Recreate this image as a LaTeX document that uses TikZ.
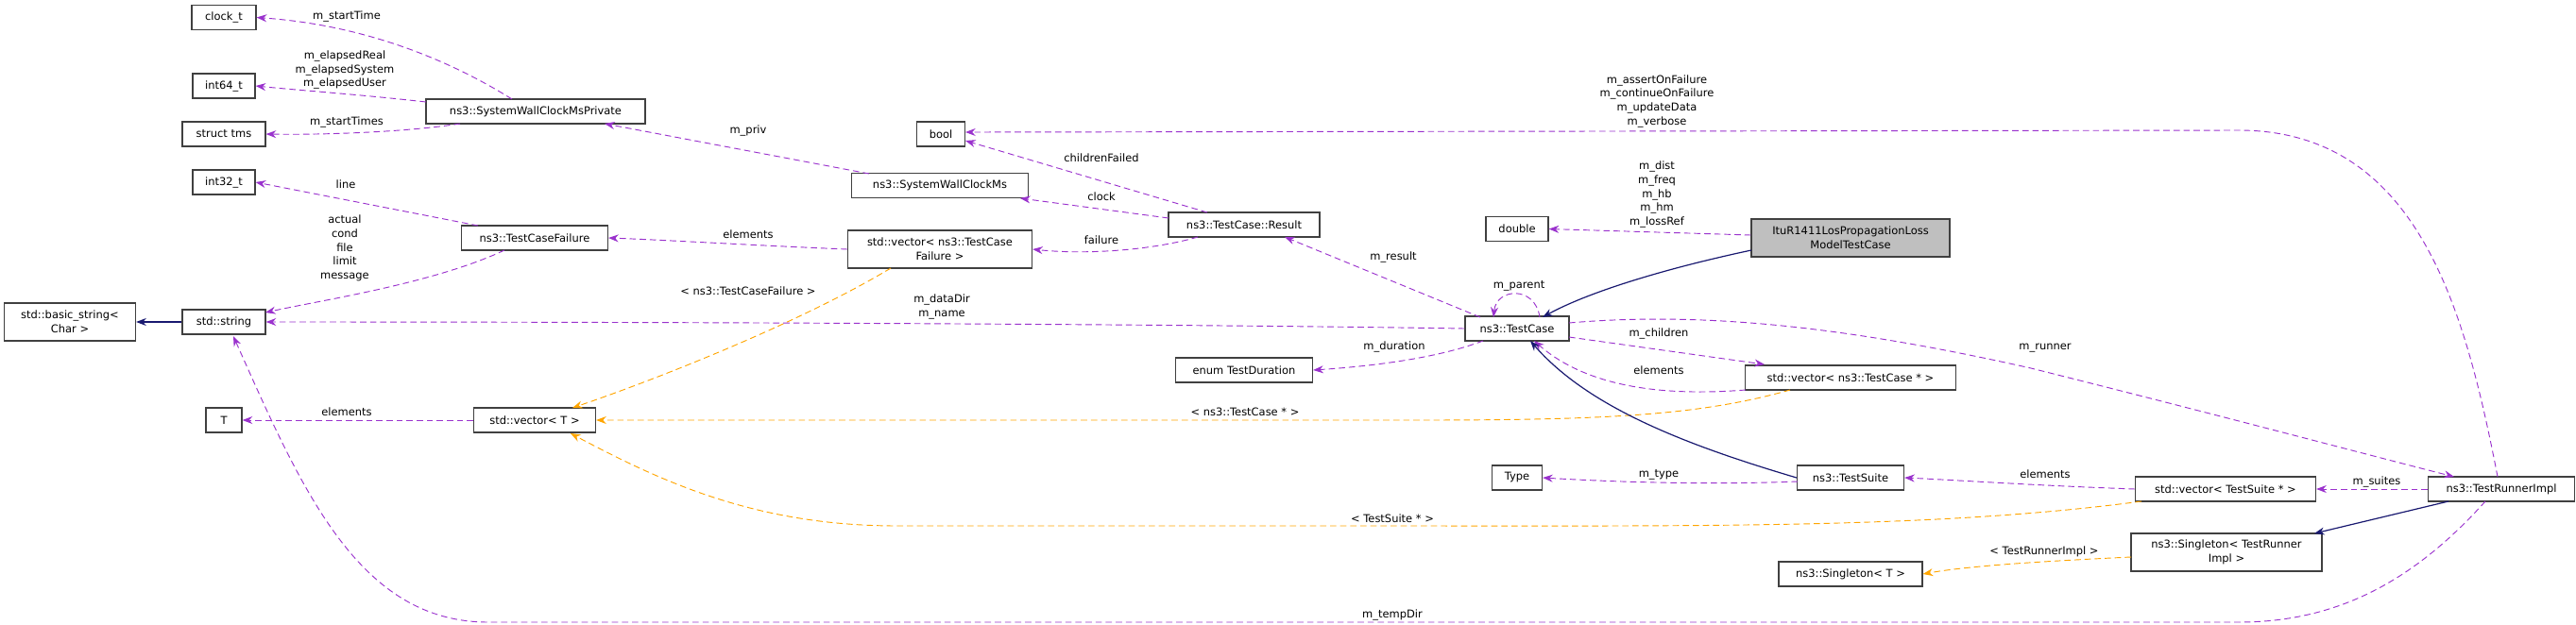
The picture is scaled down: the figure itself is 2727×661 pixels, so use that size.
\documentclass[tikz,border=0pt]{standalone}
\usepackage{fontspec}
\newfontfamily\dxf{DejaVu Sans}
\usetikzlibrary{arrows.meta}
\definecolor{pur}{HTML}{9A32CD}
\definecolor{nav}{HTML}{191970}
\definecolor{org}{HTML}{FFA500}
\newlength\px \setlength\px{0.75pt}
\begin{document}
\begin{tikzpicture}[x=0.75pt,y=-0.75pt,
 font=\dxf\fontsize{8.6}{11}\selectfont,
 box/.style={draw=black!75,line width=0.9pt,fill=white,minimum height=26\px,inner sep=1pt,align=center},
 tall/.style={box,minimum height=40\px},
 lbl/.style={align=center,inner sep=0pt},
 p/.style={draw=pur,dashed,dash pattern=on 5pt off 3pt,line width=0.7pt,-{Stealth[length=8pt,width=6pt]}},
 o/.style={draw=org,dashed,dash pattern=on 5pt off 3pt,line width=0.7pt,-{Stealth[length=8pt,width=6pt]}},
 n/.style={draw=nav,line width=0.9pt,-{Stealth[length=8pt,width=6pt]}}]
\useasboundingbox (0,0) rectangle (2727,661);
% nodes
\node[box,minimum width=68\px] (clock) at (237,18.5) {clock\_t};
\node[box,minimum width=66\px] (i64) at (237,91) {int64\_t};
\node[box,minimum width=88\px] (tms) at (237,142) {struct tms};
\node[box,minimum width=232\px] (swcmp) at (567,118) {ns3::SystemWallClockMsPrivate};
\node[box,minimum width=66\px] (i32) at (237,193) {int32\_t};
\node[box,minimum width=155\px] (tcf) at (566,252) {ns3::TestCaseFailure};
\node[tall,minimum width=139\px] (bstr) at (74,341) {std::basic\_string\textless\\Char \textgreater};
\node[box,minimum width=88\px] (str) at (237,341) {std::string};
\node[box,minimum width=38\px] (T) at (237,445) {T};
\node[box,minimum width=129\px] (vT) at (566,445) {std::vector\textless\ T \textgreater};
\node[box,minimum width=51\px] (bool) at (996,142) {bool};
\node[box,minimum width=187\px] (swcm) at (995,196.5) {ns3::SystemWallClockMs};
\node[tall,minimum width=195\px] (vtcf) at (995,264) {std::vector\textless\ ns3::TestCase\\Failure \textgreater};
\node[box,minimum width=160\px] (res) at (1317,238) {ns3::TestCase::Result};
\node[box,minimum width=66\px] (dbl) at (1606,242.5) {double};
\node[tall,minimum width=210\px,fill=black!25] (itu) at (1959,252) {ItuR1411LosPropagationLoss\\ModelTestCase};
\node[box,minimum width=110\px] (tc) at (1606,348) {ns3::TestCase};
\node[box,minimum width=145\px] (enum) at (1317,392) {enum TestDuration};
\node[box,minimum width=53\px] (type) at (1606,506) {Type};
\node[box,minimum width=223\px] (vtc) at (1959,400) {std::vector\textless\ ns3::TestCase * \textgreater};
\node[box,minimum width=113\px] (ts) at (1959,506) {ns3::TestSuite};
\node[box,minimum width=191\px] (vts) at (2356,518) {std::vector\textless\ TestSuite * \textgreater};
\node[box,minimum width=155\px] (tri) at (2648,518) {ns3::TestRunnerImpl};
\node[tall,minimum width=202\px] (stri) at (2357,585) {ns3::Singleton\textless\ TestRunner\\Impl \textgreater};
\node[box,minimum width=152\px] (sT) at (1959,608) {ns3::Singleton\textless\ T \textgreater};
\coordinate (swcmpN) at (542,105);
% edges
\draw[p] (swcmpN) .. controls (470,60) and (380,26) .. (clock.east);
\node[lbl] at (367,17) {m\_startTime};
\draw[p] (451,108) .. controls (380,100) and (320,96) .. (i64.east);
\node[lbl] at (365,74) {m\_elapsedReal\\m\_elapsedSystem\\m\_elapsedUser};
\draw[p] (487,131) .. controls (430,140) and (340,143) .. (tms.east);
\node[lbl] at (367,129) {m\_startTimes};
\draw[p] (920,184) -- (640,131);
\node[lbl] at (792,138) {m\_priv};
\draw[p] (506,239) -- (i32.east);
\node[lbl] at (366,195) {line};
\draw[p] (534,265) .. controls (460,300) and (340,318) .. (281,331);
\node[lbl] at (365,263) {actual\\cond\\file\\limit\\message};
\draw[p] (vtcf.west) .. controls (800,260) and (700,254) .. (tcf.east);
\node[lbl] at (792,248) {elements};
\draw[o] (943,284) .. controls (850,340) and (700,400) .. (606,432);
\node[lbl] at (792,308) {\textless\ ns3::TestCaseFailure \textgreater};
\draw[n] (str) -- (bstr);
\draw[p] (tc.west) .. controls (1300,344) and (800,341) .. (str.east);
\node[lbl] at (997,325) {m\_dataDir\\m\_name};
\draw[p] (vT) -- (T);
\node[lbl] at (367,436) {elements};
\draw[o] (1895,413) .. controls (1800,440) and (1700,445) .. (1500,445) -- (vT.east);
\node[lbl] at (1318,436) {\textless\ ns3::TestCase * \textgreater};
\draw[o] (2267,531) .. controls (2050,560) and (1800,557) .. (1474,557) -- (950,557) .. controls (800,557) and (700,510) .. (604,459);
\node[lbl] at (1474,549) {\textless\ TestSuite * \textgreater};
\draw[p] (1278,225) -- (1022,149);
\node[lbl] at (1166,167) {childrenFailed};
\draw[p] (1237,231) -- (1080,210);
\node[lbl] at (1166,208) {clock};
\draw[p] (1268,251) .. controls (1220,265) and (1150,270) .. (vtcf.east);
\node[lbl] at (1166,254) {failure};
\draw[p] (1567,336) -- (1360,251);
\node[lbl] at (1475,272) {m\_result};
\draw[p] (1630,336) .. controls (1625,302) and (1584,305) .. (1581,336);
\node[lbl] at (1608,303) {m\_parent};
\draw[p] (itu.west|-0,249) -- (dbl.east);
\node[lbl] at (1754,206) {m\_dist\\m\_freq\\m\_hb\\m\_hm\\m\_lossRef};
\draw[n] (1854,265) .. controls (1760,285) and (1680,310) .. (1633,336);
\draw[p] (1570,361) .. controls (1520,380) and (1450,388) .. (enum.east);
\node[lbl] at (1476,367) {m\_duration};
\draw[p] (1661,357) -- (1868,386);
\node[lbl] at (1756,353) {m\_children};
\draw[p] (1848,413) .. controls (1760,420) and (1680,410) .. (1624,361);
\node[lbl] at (1756,392) {elements};
\draw[p] (1661,342) .. controls (1800,330) and (1950,345) .. (2150,390) .. controls (2350,440) and (2500,480) .. (2598,505);
\node[lbl] at (2165,369) {m\_runner};
\draw[n] (ts.west) .. controls (1780,470) and (1680,430) .. (1620,361);
\draw[p] (1903,510) .. controls (1800,514) and (1700,510) .. (type.east);
\node[lbl] at (1756,503) {m\_type};
\draw[p] (vts.west) .. controls (2150,514) and (2080,509) .. (ts.east);
\node[lbl] at (2165,502) {elements};
\draw[p] (tri) -- (vts);
\node[lbl] at (2516,510) {m\_suites};
\draw[n] (2592,531) -- (2450,565);
\draw[o] (2256,590) .. controls (2150,595) and (2080,600) .. (sT.east);
\node[lbl] at (2164,584) {\textless\ TestRunnerImpl \textgreater};
\draw[p] (2644,505) .. controls (2610,330) and (2560,138) .. (2370,138) -- (1022,140);
\node[lbl] at (1754,107) {m\_assertOnFailure\\m\_continueOnFailure\\m\_updateData\\m\_verbose};
\draw[p] (2631,531) .. controls (2560,610) and (2480,659) .. (2370,659) -- (517,659) .. controls (380,659) and (320,520) .. (247,356);
\node[lbl] at (1474,651) {m\_tempDir};
\end{tikzpicture}
\end{document}
